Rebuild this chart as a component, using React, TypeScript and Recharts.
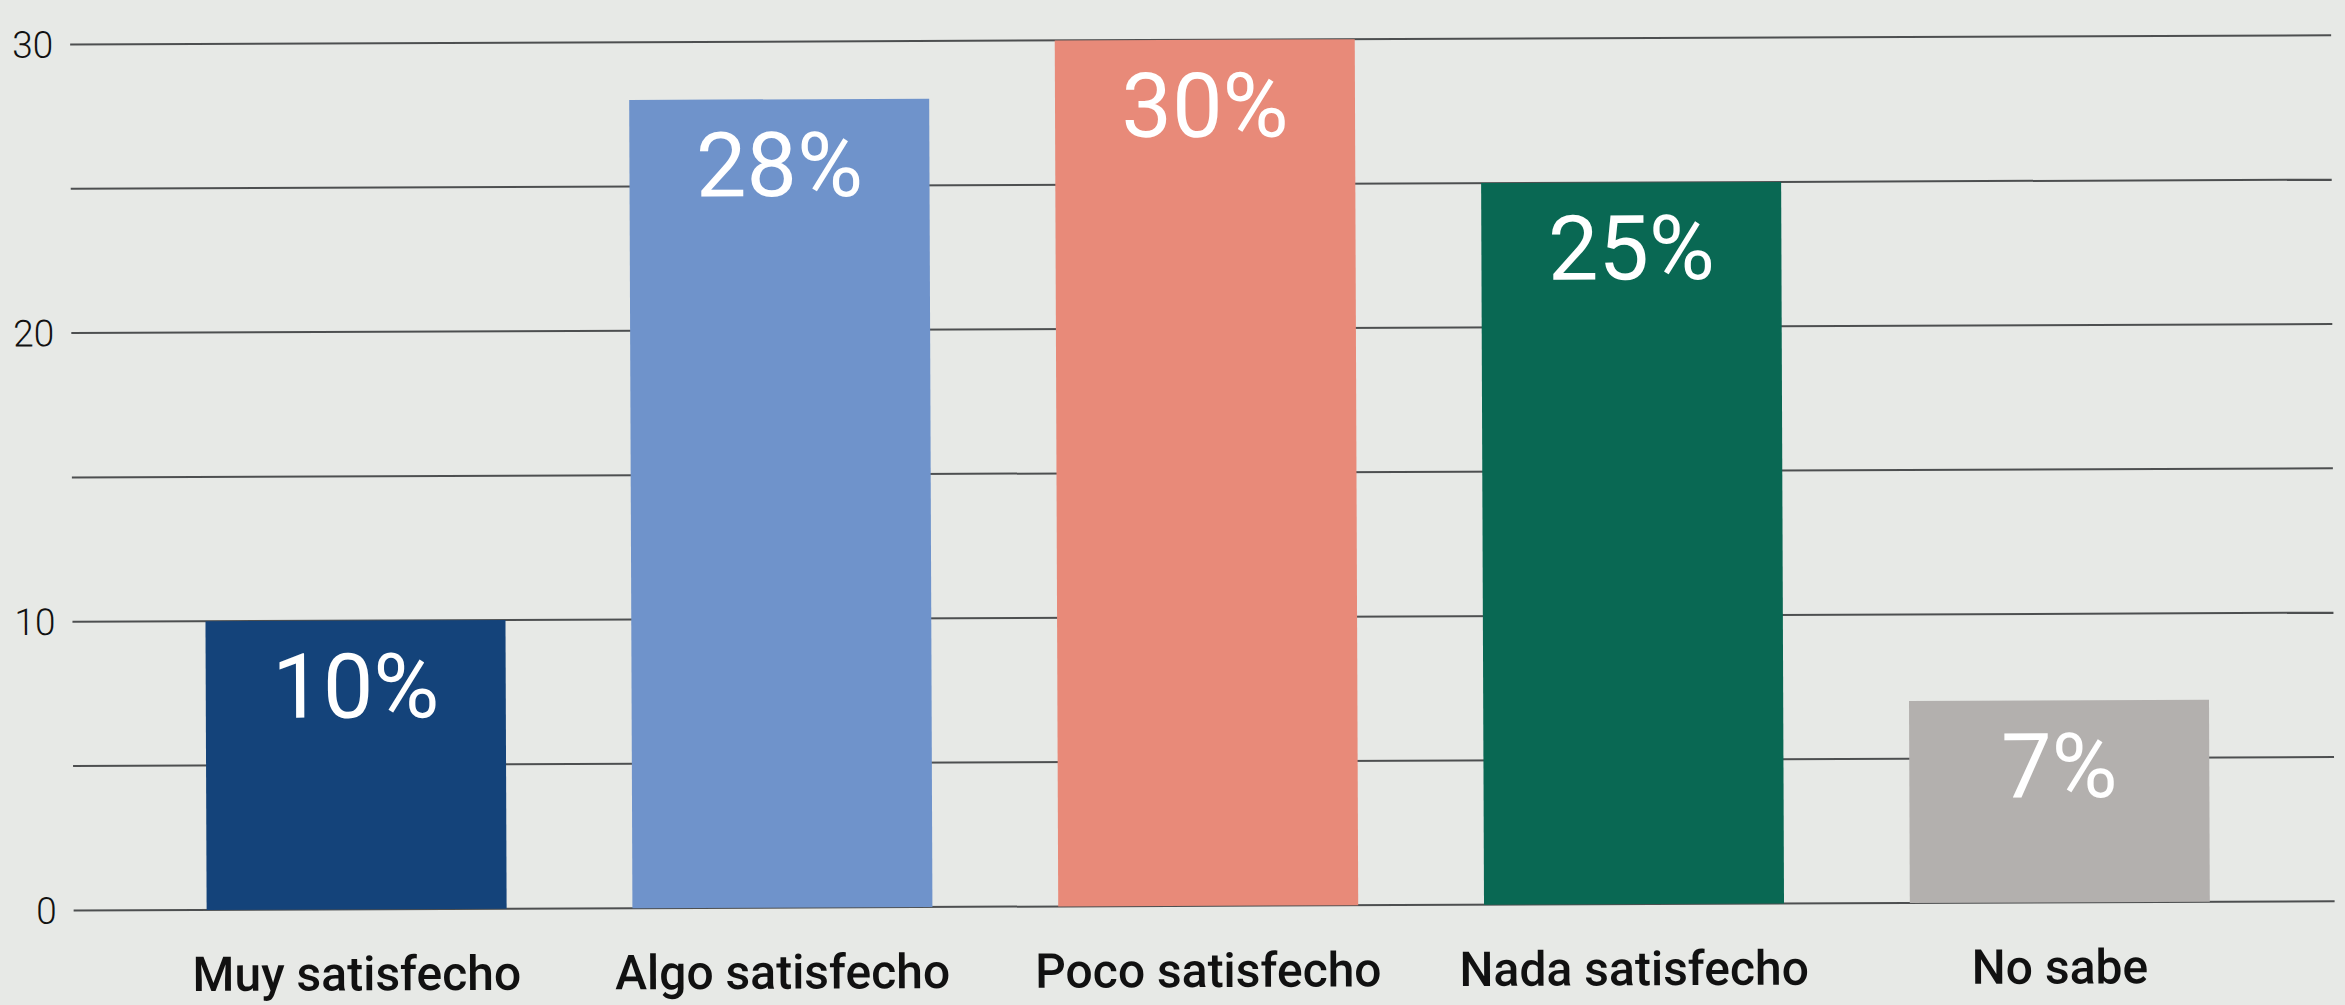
import { BarChart, Bar, XAxis, YAxis, CartesianGrid, Cell, LabelList } from "recharts";

const categories = ["Muy satisfecho", "Algo satisfecho", "Poco satisfecho", "Nada satisfecho", "No sabe"];
const values = [10, 28, 30, 25, 7];
const colors = ["#14437A", "#6F93CB", "#E88A79", "#096853", "#B3B0AE"];
const yTicks = [0, 5, 10, 15, 20, 25, 30];

const data = categories.map((name, i) => ({ name, value: values[i] }));

export default function App() {
    return (
        <div
            style={{
                position: "absolute",
                left: 0,
                top: 0,
                width: 2345,
                height: 1005,
                background: "#E7E9E6",
                overflow: "hidden",
            }}
        >
            <div style={{ transform: "rotate(-0.23deg)", transformOrigin: "50% 50%" }}>
                <BarChart
                    width={2345}
                    height={1005}
                    data={data}
                    margin={{ top: 40, right: 12, bottom: 0, left: 0 }}
                    barCategoryGap={0}
                >
                    <CartesianGrid vertical={false} stroke="#4D4F50" strokeWidth={2} />
                    <XAxis
                        dataKey="name"
                        axisLine={false}
                        tickLine={false}
                        height={99}
                        tickMargin={41}
                        padding={{ left: 70, right: 62 }}
                        tick={{ fill: "#111", fontSize: 48, fontFamily: "Roboto", fontWeight: 500 }}
                        interval={0}
                    />
                    <YAxis
                        domain={[0, 30]}
                        ticks={yTicks}
                        width={72}
                        axisLine={false}
                        tickLine={false}
                        tickMargin={11}
                        tickFormatter={(v: number) => (v % 10 === 0 ? String(v) : "")}
                        tick={{ fill: "#111", fontSize: 37, fontFamily: "Roboto", fontWeight: 300 }}
                    />
                    <Bar dataKey="value" barSize={300} isAnimationActive={false}>
                        {data.map((d, i) => (
                            <Cell key={d.name} fill={colors[i]} />
                        ))}
                        <LabelList
                            dataKey="value"
                            position="insideTop"
                            offset={33}
                            formatter={(v: number) => `${v}%`}
                            fill="#FFFFFF"
                            style={{ fontSize: 90, fontFamily: "Roboto", fontWeight: 400 }}
                        />
                    </Bar>
                </BarChart>
            </div>
        </div>
    );
}
